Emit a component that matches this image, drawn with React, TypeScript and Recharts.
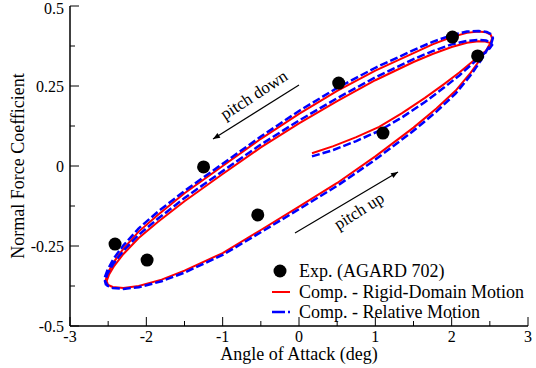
import { ComposedChart, Line, Scatter, XAxis, YAxis } from "recharts";

// experiment (AGARD 702)
const expAoa = [-2.41, -1.99, -1.25, -0.54, 0.52, 1.1, 2.01, 2.34];
const expCn = [-0.244, -0.294, -0.003, -0.153, 0.259, 0.103, 0.403, 0.344];

// computed, rigid-domain motion (start transient, two pitch-down passes, one pitch-up)
const rigidAoa = [
  0.17, 0.45, 0.75, 1.05, 1.35, 1.65, 1.9, 2.1, 2.25, 2.37, 2.45, 2.5,
  2.52, 2.5, 2.44, 2.35, 2.2, 2.0, 1.75, 1.5, 1.0, 0.5, 0.0, -0.5, -1.0, -1.5, -1.85, -2.1, -2.3, -2.42, -2.49, -2.52, -2.5, -2.44,
  -2.3, -2.1, -1.8, -1.5, -1.0, -0.5, 0.0, 0.5, 1.0, 1.5, 1.8, 2.05, 2.25, 2.38, 2.46, 2.51,
  2.53, 2.51, 2.45, 2.35, 2.2, 2.0, 1.75, 1.5, 1.0, 0.5, 0.0, -0.5, -1.0, -1.5, -1.85, -2.1, -2.3, -2.42, -2.5, -2.53, -2.51, -2.45,
];
const rigidCn = [
  0.04, 0.062, 0.09, 0.122, 0.165, 0.213, 0.256, 0.292, 0.322, 0.345, 0.36, 0.37,
  0.378, 0.385, 0.389, 0.39, 0.385, 0.372, 0.35, 0.325, 0.268, 0.203, 0.133, 0.058, -0.025, -0.11, -0.175, -0.225, -0.275, -0.312, -0.34, -0.36, -0.372, -0.378,
  -0.381, -0.375, -0.355, -0.327, -0.272, -0.2, -0.127, -0.053, 0.03, 0.12, 0.18, 0.235, 0.292, 0.335, 0.365, 0.385,
  0.4, 0.411, 0.418, 0.42, 0.416, 0.403, 0.38, 0.353, 0.298, 0.235, 0.163, 0.085, 0.0, -0.085, -0.153, -0.205, -0.258, -0.298, -0.332, -0.355, -0.37, -0.378,
];

// computed, relative motion
const relAoa = [
  0.17, 0.45, 0.75, 1.05, 1.35, 1.65, 1.9, 2.1, 2.25, 2.37, 2.45, 2.5,
  2.53, 2.51, 2.45, 2.35, 2.2, 2.0, 1.75, 1.5, 1.0, 0.5, 0.0, -0.5, -1.0, -1.5, -1.85, -2.1, -2.3, -2.43, -2.51, -2.54, -2.51, -2.44,
  -2.3, -2.1, -1.8, -1.5, -1.0, -0.5, 0.0, 0.5, 1.0, 1.5, 1.8, 2.05, 2.25, 2.38, 2.46, 2.52,
  2.54, 2.52, 2.46, 2.35, 2.2, 2.0, 1.75, 1.5, 1.0, 0.5, 0.0, -0.5, -1.0, -1.5, -1.85, -2.1, -2.3, -2.43, -2.51, -2.55, -2.53, -2.46,
];
const relCn = [
  0.03, 0.05, 0.078, 0.11, 0.152, 0.2, 0.245, 0.283, 0.315, 0.34, 0.357, 0.368,
  0.378, 0.386, 0.392, 0.394, 0.391, 0.38, 0.359, 0.334, 0.277, 0.212, 0.142, 0.067, -0.016, -0.1, -0.165, -0.215, -0.265, -0.305, -0.337, -0.36, -0.374, -0.381,
  -0.384, -0.379, -0.36, -0.333, -0.278, -0.207, -0.135, -0.062, 0.02, 0.11, 0.17, 0.226, 0.284, 0.329, 0.361, 0.384,
  0.4, 0.412, 0.419, 0.422, 0.42, 0.409, 0.388, 0.362, 0.307, 0.244, 0.172, 0.092, 0.007, -0.078, -0.143, -0.195, -0.248, -0.29, -0.326, -0.352, -0.37, -0.38,
];

const xTicks = [-3, -2.5, -2, -1.5, -1, -0.5, 0, 0.5, 1, 1.5, 2, 2.5, 3];
const yTicks = [-0.5, -0.375, -0.25, -0.125, 0, 0.125, 0.25, 0.375, 0.5];

const pts = (xs: number[], ys: number[]) => xs.map((x, i) => ({ x, y: ys[i] }));

const FONT = "'Liberation Serif', 'DejaVu Serif', serif";

function XTick({ x, y, payload, top }: any) {
  const v = payload.value;
  const major = Number.isInteger(v);
  const len = major ? 9 : 5;
  return (
    <g>
      <line x1={x} x2={x} y1={y} y2={top ? y + len : y - len} stroke="#000" strokeWidth={1} />
      {!top && major && (
        <text x={x} y={y + 16} textAnchor="middle" fontSize={16} fontFamily={FONT} fill="#000">
          {v}
        </text>
      )}
    </g>
  );
}

function YTick({ x, y, payload, right }: any) {
  const v = payload.value;
  const major = Number.isInteger(v * 4);
  const len = major ? 9 : 5;
  // keep the top label inside the page
  const ty = Math.max(y, 8);
  return (
    <g>
      <line x1={x} x2={right ? x - len : x + len} y1={y} y2={y} stroke="#000" strokeWidth={1} />
      {!right && major && (
        <text x={x - 6} y={ty} dy="0.4em" textAnchor="end" fontSize={16} fontFamily={FONT} fill="#000">
          {v}
        </text>
      )}
    </g>
  );
}

export default function App() {
  const axisLine = { stroke: "#000", strokeWidth: 1.5 };
  return (
    <div style={{ position: "absolute", left: 0, top: 0, width: 536, height: 368, background: "#fff" }}>
      <ComposedChart width={536} height={368} margin={{ top: 6, right: 8, bottom: 12, left: 10 }}>
        <XAxis dataKey="x" type="number" domain={[-3, 3]} ticks={xTicks} interval={0} height={30}
          tickSize={0} tickMargin={0} axisLine={axisLine} tick={<XTick />} allowDataOverflow />
        <XAxis xAxisId="top" orientation="top" type="number" domain={[-3, 3]} ticks={xTicks} interval={0} height={0}
          tickSize={0} tickMargin={0} axisLine={axisLine} tick={<XTick top />} allowDataOverflow />
        <YAxis dataKey="y" type="number" domain={[-0.5, 0.5]} ticks={yTicks} interval={0} width={60}
          tickSize={0} tickMargin={0} axisLine={axisLine} tick={<YTick />} allowDataOverflow />
        <YAxis yAxisId="right" orientation="right" type="number" domain={[-0.5, 0.5]} ticks={yTicks} interval={0} width={0}
          tickSize={0} tickMargin={0} axisLine={axisLine} tick={<YTick right />} allowDataOverflow />
        <Line data={pts(rigidAoa, rigidCn)} dataKey="y" type="linear" stroke="#ff0000" strokeWidth={2}
          dot={false} activeDot={false} isAnimationActive={false} />
        <Line data={pts(relAoa, relCn)} dataKey="y" type="linear" stroke="#0000ff" strokeWidth={2.5}
          strokeDasharray="8 3" dot={false} activeDot={false} isAnimationActive={false} />
        <Scatter data={pts(expAoa, expCn)} dataKey="y" fill="#000" isAnimationActive={false}
          shape={(p: any) => <circle cx={p.cx} cy={p.cy} r={6.5} fill="#000" />} />
      </ComposedChart>

      <svg width={536} height={368} style={{ position: "absolute", left: 0, top: 0, pointerEvents: "none" }}
        fontFamily={FONT}>
        <defs>
          <marker id="ah" viewBox="0 0 10 10" refX="10" refY="5" markerUnits="userSpaceOnUse"
            markerWidth="9" markerHeight="7" orient="auto">
            <path d="M0,1 L10,5 L0,9 z" fill="#000" />
          </marker>
        </defs>
        {/* annotations */}
        <line x1={299} y1={85} x2={213} y2={139} stroke="#000" strokeWidth={1.2} markerEnd="url(#ah)" />
        <text x={254} y={95} fontSize={17} textAnchor="middle" dominantBaseline="central"
          transform="rotate(-33 254 95)">pitch down</text>
        <line x1={295} y1={233} x2={398} y2={172} stroke="#000" strokeWidth={1.2} markerEnd="url(#ah)" />
        <text x={359} y={211} fontSize={17} textAnchor="middle" dominantBaseline="central"
          transform="rotate(-32 359 211)">pitch up</text>

        {/* axis titles */}
        <text x={299} y={360} fontSize={18} textAnchor="middle">Angle of Attack (deg)</text>
        <text x={24} y={166} fontSize={18} textAnchor="middle" transform="rotate(-90 24 166)">
          Normal Force Coefficient
        </text>

        {/* legend */}
        <circle cx={280} cy={271} r={6.5} fill="#000" />
        <text x={299} y={271} fontSize={18} dominantBaseline="central">Exp. (AGARD 702)</text>
        <line x1={272} x2={290} y1={292} y2={292} stroke="#ff0000" strokeWidth={2} />
        <text x={299} y={292} fontSize={18} dominantBaseline="central">Comp. - Rigid-Domain Motion</text>
        <line x1={272} x2={290} y1={312} y2={312} stroke="#0000ff" strokeWidth={2.5} strokeDasharray="13 3" />
        <text x={299} y={312} fontSize={18} dominantBaseline="central">Comp. - Relative Motion</text>
      </svg>
    </div>
  );
}
